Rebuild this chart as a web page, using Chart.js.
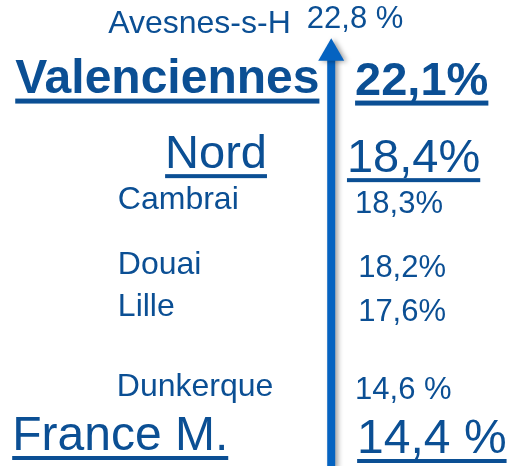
<!DOCTYPE html>
<html lang="fr">
<head>
<meta charset="UTF-8" />
<title>Taux</title>
<script src="https://cdn.jsdelivr.net/npm/chart.js@4.4.1/dist/chart.umd.min.js"></script>
<style>
  html, body { margin: 0; padding: 0; background: #fff; }
</style>
</head>
<body>
<canvas id="chart" width="508" height="466"></canvas>
<script>
// territoires, du taux le plus haut au plus bas
const territoires = ["Avesnes-s-H", "Valenciennes", "Nord", "Cambrai", "Douai", "Lille", "Dunkerque", "France M."];
const taux = [22.8, 22.1, 18.4, 18.3, 18.2, 17.6, 14.6, 14.4];

const BLEU_TEXTE = "#0b4f94";
const BLEU_FLECHE = "#0563c1";
const FONT = "'Liberation Sans', Arial, sans-serif";

// mise en forme de chaque ligne (taille nom / valeur, gras, souligné, bord gauche nom / valeur en % de largeur, petits décalages)
const styles = [
  { ns: 32, vs: 31, bold: false, line: false, sep: " ", nx: 21.3, vx: 60.4, dn: 0, dv: -5 },
  { ns: 48, vs: 47, bold: true, line: true, sep: "", nx: 3.0, vx: 69.9, dn: 0, dv: 2 },
  { ns: 47, vs: 47, bold: false, line: true, sep: "", nx: 32.5, vx: 68.3, dn: 16, dv: 20 },
  { ns: 32, vs: 31, bold: false, line: false, sep: "", nx: 23.2, vx: 69.9, dn: -3, dv: 1 },
  { ns: 32, vs: 31, bold: false, line: false, sep: "", nx: 23.2, vx: 70.5, dn: 3, dv: 6 },
  { ns: 32, vs: 31, bold: false, line: false, sep: "", nx: 23.2, vx: 70.5, dn: -15, dv: -10 },
  { ns: 32, vs: 31, bold: false, line: false, sep: " ", nx: 23.0, vx: 69.9, dn: 6, dv: 9 },
  { ns: 48, vs: 48, bold: false, line: true, sep: " ", nx: 2.4, vx: 70.3, dn: 0, dv: 3 }
];

function fmt(v, sep) {
  return v.toFixed(1).replace(".", ",") + sep + "%";
}

// la flèche : du bas du graphique jusqu'au-dessus de la première ligne
const fleche = [{ x: 65.2, y: 7.3 }, { x: 65.2, y: 0.34 }];

const ombre = {
  id: "ombre",
  beforeDatasetsDraw(chart) {
    const ctx = chart.ctx;
    ctx.save();
    ctx.shadowColor = "rgba(0,0,0,0.35)";
    ctx.shadowBlur = 5;
    ctx.shadowOffsetX = 3;
    ctx.shadowOffsetY = 1;
  },
  afterDatasetsDraw(chart) {
    chart.ctx.restore();
  }
};

function ecrire(ctx, txt, size, px, py, s) {
  ctx.font = (s.bold ? "bold " : "") + size + "px " + FONT;
  ctx.fillText(txt, px, py);
  if (s.line) {
    const w = ctx.measureText(txt).width;
    ctx.fillRect(px, py + 6, w, s.bold ? 5 : 4);
  }
}

const textes = {
  id: "textes",
  afterDraw(chart) {
    const { ctx, scales: { x, y } } = chart;
    ctx.save();
    ctx.fillStyle = BLEU_TEXTE;
    ctx.textBaseline = "alphabetic";
    ctx.textAlign = "left";
    territoires.forEach((nom, i) => {
      const s = styles[i];
      const yp = y.getPixelForValue(i);
      ecrire(ctx, nom, s.ns, x.getPixelForValue(s.nx), yp + s.dn, s);
      ecrire(ctx, fmt(taux[i], s.sep), s.vs, x.getPixelForValue(s.vx), yp + s.dv, s);
    });
    ctx.restore();
  }
};

new Chart(document.getElementById("chart").getContext("2d"), {
  type: "line",
  data: {
    datasets: [{
      data: fleche,
      borderColor: BLEU_FLECHE,
      borderWidth: 8,
      pointStyle: "triangle",
      pointRadius: [0, 15],
      pointBackgroundColor: BLEU_FLECHE,
      pointBorderColor: BLEU_FLECHE,
      pointBorderWidth: 0,
      clip: false
    }]
  },
  options: {
    responsive: false,
    animation: false,
    events: [],
    layout: { autoPadding: false, padding: { top: 33, bottom: 16, left: 0, right: 0 } },
    scales: {
      x: { type: "linear", min: 0, max: 100, display: false },
      y: { type: "linear", min: 0, max: territoires.length - 1, reverse: true, display: false }
    },
    plugins: { legend: { display: false }, tooltip: { enabled: false } }
  },
  plugins: [ombre, textes]
});
</script>
</body>
</html>
